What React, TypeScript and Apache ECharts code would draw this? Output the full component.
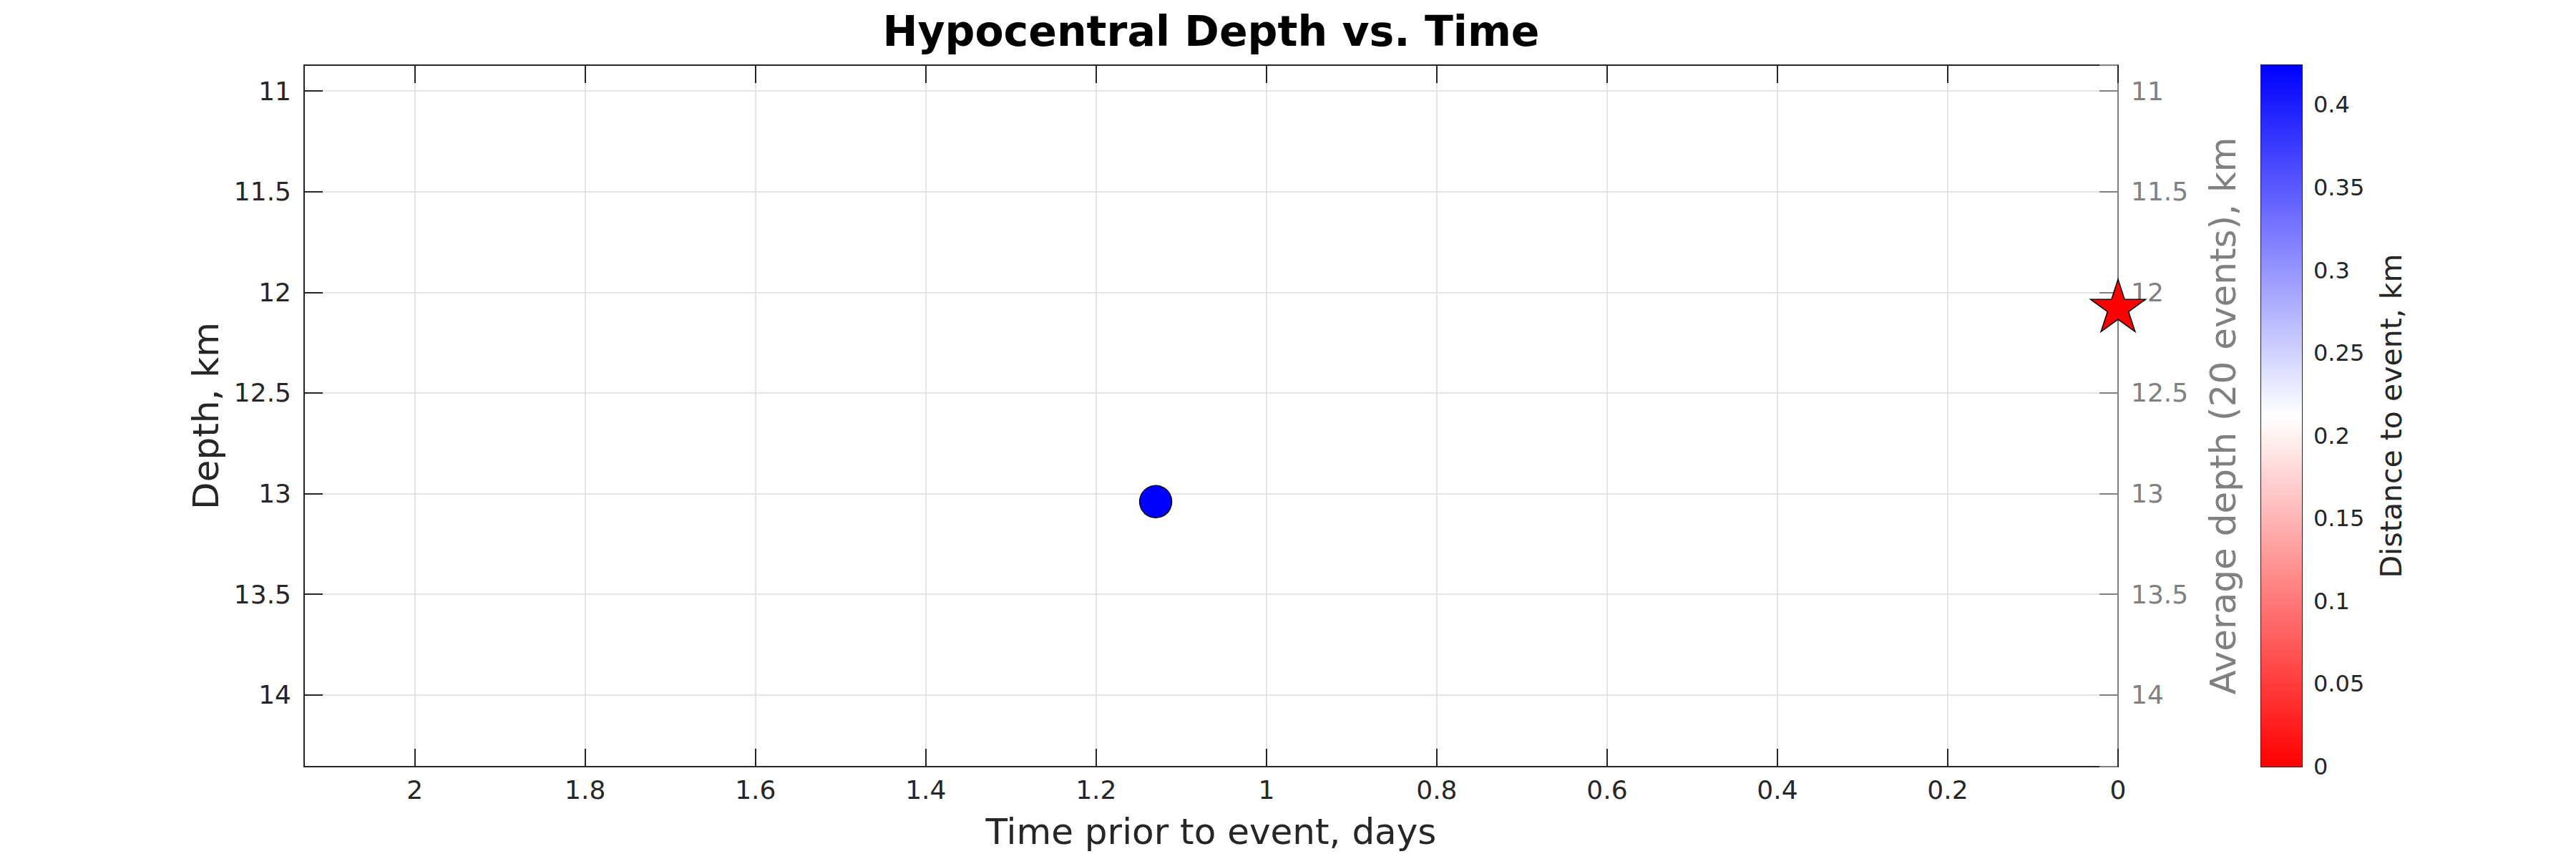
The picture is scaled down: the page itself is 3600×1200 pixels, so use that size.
import React, { useEffect, useRef } from "react";
import * as echarts from "echarts";

// ---- data ----
const eventTimeDays = [1.13];
const eventDepthKm = [13.04];
const eventDistanceKm = [0.424];
const mainTimeDays = [0];
const mainDepthKm = [12.08];

// axis ranges / tick steps
const xRange = [0, 2.13];
const xStep = 0.2;
const yRange = [10.872, 14.356];
const yStep = 0.5;
const cRange = [0, 0.424];
const cStep = 0.05;

const titleText = "Hypocentral Depth vs. Time";
const xName = "Time prior to event, days";
const yLeftName = "Depth, km";
const yRightName = "Average depth (20 events), km";
const cName = "Distance to event, km";

const FONT = "DejaVu Sans";
const DARK = "#262626";
const GRAY = "#808080";
const GRID = "#dcdcdc";

function stepFormatter(step: number, digits: number) {
  return (v: number) => {
    const k = v / step;
    return Math.abs(k - Math.round(k)) < 1e-6 ? String(+v.toFixed(digits)) : "";
  };
}

function starPath() {
  const pts: string[] = [];
  for (let i = 0; i < 10; i++) {
    const a = (-90 + i * 36) * (Math.PI / 180);
    const r = i % 2 === 0 ? 50 : 50 * 0.382;
    const x = 50 + r * Math.cos(a);
    const y = 50 + r * Math.sin(a);
    pts.push((i === 0 ? "M" : "L") + x.toFixed(3) + " " + y.toFixed(3));
  }
  return "path://" + pts.join(" ") + " Z";
}

export default function App() {
  const ref = useRef<HTMLDivElement>(null);
  useEffect(() => {
    document.body.style.margin = "0";
    const chart = echarts.init(ref.current!, null, { renderer: "svg" });
    const plotLeft = 425;
    const plotTop = 91;
    const plotW = 2535;
    const plotH = 980;

    const option: any = {
      animation: false,
      backgroundColor: "#ffffff",
      textStyle: { fontFamily: FONT },
      graphic: [
        {
          type: "text",
          x: plotLeft + plotW / 2,
          y: 44,
          style: {
            text: titleText,
            fontFamily: FONT,
            fontSize: 58.5,
            fontWeight: "bold",
            fill: "#000000",
            align: "center",
            verticalAlign: "middle",
            textAlign: "center",
            textVerticalAlign: "middle",
          },
        },
      ],
      grid: [
        { left: plotLeft, top: plotTop, width: plotW, height: plotH, containLabel: false },
        {
          left: 3160,
          top: plotTop,
          width: 57,
          height: plotH,
          show: true,
          borderColor: DARK,
          borderWidth: 2,
          backgroundColor: "transparent",
        },
      ],
      xAxis: [
        {
          gridIndex: 0,
          type: "value",
          position: "bottom",
          inverse: true,
          min: xRange[0],
          max: xRange[1],
          interval: xStep,
          axisLine: { show: true, onZero: false, lineStyle: { color: DARK, width: 2 } },
          axisTick: { show: true, inside: true, length: 25, lineStyle: { color: DARK, width: 2 } },
          axisLabel: {
            show: true,
            margin: 14,
            fontSize: 36,
            fontFamily: FONT,
            color: DARK,
            formatter: stepFormatter(xStep, 1),
          },
          splitLine: { show: true, lineStyle: { color: GRID, width: 1.5 } },
          name: xName,
          nameLocation: "middle",
          nameGap: 66,
          nameTextStyle: { fontSize: 50, fontFamily: FONT, color: DARK },
        },
        {
          gridIndex: 0,
          type: "value",
          position: "top",
          inverse: true,
          min: xRange[0],
          max: xRange[1],
          interval: xStep,
          axisLine: { show: true, onZero: false, lineStyle: { color: DARK, width: 2 } },
          axisTick: { show: true, inside: true, length: 25, lineStyle: { color: DARK, width: 2 } },
          axisLabel: { show: false },
          splitLine: { show: false },
        },
        {
          gridIndex: 1,
          type: "category",
          data: [""],
          show: false,
          boundaryGap: true,
        },
      ],
      yAxis: [
        {
          gridIndex: 0,
          type: "value",
          position: "left",
          inverse: true,
          min: yRange[0],
          max: yRange[1],
          splitNumber: 7,
          axisLine: { show: true, onZero: false, lineStyle: { color: DARK, width: 2 } },
          axisTick: { show: true, inside: true, length: 26, lineStyle: { color: DARK, width: 2 } },
          axisLabel: {
            show: true,
            margin: 18,
            fontSize: 36,
            fontFamily: FONT,
            color: DARK,
            formatter: stepFormatter(yStep, 1),
          },
          splitLine: { show: true, lineStyle: { color: GRID, width: 1.5 } },
          name: yLeftName,
          nameLocation: "middle",
          nameRotate: 90,
          nameGap: 112,
          nameTextStyle: { fontSize: 50, fontFamily: FONT, color: DARK },
        },
        {
          gridIndex: 0,
          type: "value",
          position: "right",
          inverse: true,
          min: yRange[0],
          max: yRange[1],
          splitNumber: 7,
          axisLine: { show: true, onZero: false, lineStyle: { color: GRAY, width: 2 } },
          axisTick: { show: true, inside: true, length: 26, lineStyle: { color: GRAY, width: 2 } },
          axisLabel: {
            show: true,
            margin: 18,
            fontSize: 36,
            fontFamily: FONT,
            color: GRAY,
            formatter: stepFormatter(yStep, 1),
          },
          splitLine: { show: false },
          name: yRightName,
          nameLocation: "middle",
          nameRotate: 90,
          nameGap: 122,
          nameTextStyle: { fontSize: 50, fontFamily: FONT, color: GRAY },
        },
        {
          gridIndex: 1,
          type: "value",
          position: "right",
          min: cRange[0],
          max: cRange[1],
          splitNumber: 8,
          axisLine: { show: true, onZero: false, lineStyle: { color: DARK, width: 2 } },
          axisTick: { show: true, inside: true, length: 10, lineStyle: { color: DARK, width: 2 } },
          axisLabel: {
            show: true,
            margin: 16,
            fontSize: 32,
            fontFamily: FONT,
            color: DARK,
            formatter: stepFormatter(cStep, 2),
          },
          splitLine: { show: false },
          name: cName,
          nameLocation: "middle",
          nameRotate: 90,
          nameGap: 104,
          nameTextStyle: { fontSize: 41, fontFamily: FONT, color: DARK },
        },
      ],
      visualMap: {
        type: "continuous",
        show: false,
        seriesIndex: 0,
        dimension: 2,
        min: cRange[0],
        max: cRange[1],
        inRange: { color: ["#ff0000", "#ffffff", "#0000ff"] },
      },
      series: [
        {
          type: "scatter",
          xAxisIndex: 0,
          yAxisIndex: 0,
          clip: false,
          symbol: "circle",
          symbolSize: 45,
          itemStyle: { borderColor: "#000000", borderWidth: 1.5, opacity: 1 },
          data: eventTimeDays.map((t, i) => [t, eventDepthKm[i], eventDistanceKm[i]]),
          z: 3,
        },
        {
          type: "scatter",
          xAxisIndex: 0,
          yAxisIndex: 0,
          clip: false,
          symbol: starPath(),
          symbolSize: [77, 73],
          symbolKeepAspect: false,
          symbolOffset: [0, -4],
          itemStyle: { color: "#ff0000", borderColor: "#000000", borderWidth: 1.5, opacity: 1 },
          data: mainTimeDays.map((t, i) => [t, mainDepthKm[i]]),
          z: 4,
        },
        {
          type: "bar",
          xAxisIndex: 2,
          yAxisIndex: 2,
          silent: true,
          barWidth: "100%",
          data: [cRange[1]],
          itemStyle: {
            color: new echarts.graphic.LinearGradient(0, 1, 0, 0, [
              { offset: 0, color: "#ff0000" },
              { offset: 0.5, color: "#ffffff" },
              { offset: 1, color: "#0000ff" },
            ]),
          },
          z: 1,
        },
      ],
    };
    chart.setOption(option);
    return () => chart.dispose();
  }, []);
  return <div ref={ref} style={{ width: 3600, height: 1200 }} />;
}
